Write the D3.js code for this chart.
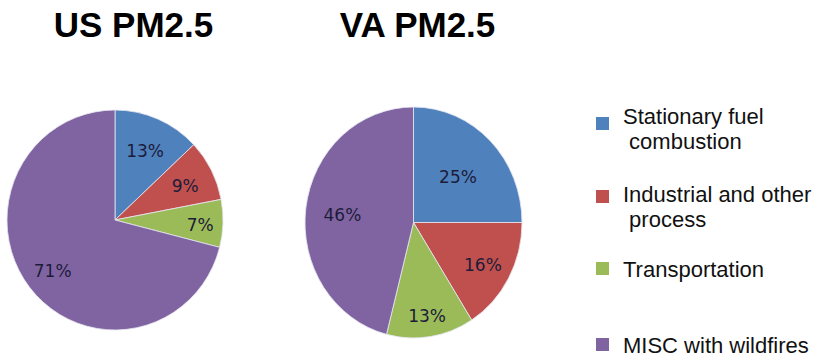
<!DOCTYPE html>
<html>
<head>
<meta charset="utf-8">
<script src="https://cdn.jsdelivr.net/npm/d3@7"></script>
<style>
  html, body { margin: 0; padding: 0; background: #fff; }
  svg { display: block; }
</style>
</head>
<body>
<svg id="chart" width="814" height="357"></svg>
<script>
// Emission source categories and their PM2.5 shares (%)
const categories = ["Stationary fuel combustion", "Industrial and other process", "Transportation", "MISC with wildfires"];
const legendLines = [["Stationary fuel", " combustion"], ["Industrial and other", " process"], ["Transportation"], ["MISC with wildfires"]];
const usValues = [13, 9, 7, 71];
const vaValues = [25, 16, 13, 46];
const titles = ["US PM2.5", "VA PM2.5"];
const colors = ["#4f81bd", "#c0504d", "#9bbb59", "#8064a2"];

const svg = d3.select("#chart");
const color = d3.scaleOrdinal().domain(categories).range(colors);
const pie = d3.pie().sort(null).value(d => d.value);

// Layout of the two pies (label radii are fractions of the pie radius)
const pies = [
  { title: titles[0], values: usValues, cx: 115, cy: 220, rx: 108, ry: 110, titleX: 133.5,
    labelR: [0.70, 0.73, 0.79, 0.73] },
  { title: titles[1], values: vaValues, cx: 413.5, cy: 222.5, rx: 108.5, ry: 115.5, titleX: 417.5,
    labelR: [0.58, 0.73, 0.80, 0.66] }
];

pies.forEach(p => {
  const data = categories.map((c, i) => ({ category: c, value: p.values[i] }));
  const arcs = pie(data);
  const R = 100;
  const arc = d3.arc().innerRadius(0).outerRadius(R);

  const g = svg.append("g")
    .attr("transform", `translate(${p.cx},${p.cy}) scale(${p.rx / R},${p.ry / R})`);

  g.selectAll("path")
    .data(arcs)
    .join("path")
    .attr("d", arc)
    .attr("fill", d => color(d.data.category))
    .attr("stroke", "#e6e6f0")
    .attr("stroke-width", 0.8 * R / p.rx);

  // percentage labels, placed in unscaled space so the text isn't stretched
  const pos = (d, i) => {
    const r = R * p.labelR[i];
    return d3.arc().innerRadius(r).outerRadius(r).centroid(d);
  };
  svg.append("g")
    .selectAll("text")
    .data(arcs)
    .join("text")
    .attr("x", (d, i) => p.cx + pos(d, i)[0] * p.rx / R)
    .attr("y", (d, i) => p.cy + pos(d, i)[1] * p.ry / R + 2)
    .attr("text-anchor", "middle")
    .attr("dominant-baseline", "central")
    .attr("font-family", "DejaVu Sans, Verdana, sans-serif")
    .attr("font-size", 17)
    .attr("fill", "#1c1c3a")
    .text(d => d.data.value + "%");

  svg.append("text")
    .attr("x", p.titleX)
    .attr("y", 37)
    .attr("text-anchor", "middle")
    .attr("font-family", "Liberation Sans, Arial, sans-serif")
    .attr("font-weight", "bold")
    .attr("font-size", 35)
    .attr("fill", "#000")
    .text(p.title);
});

// Legend
const legendBaseline = [124, 202, 277, 353];
const legendSwatchTop = [117, 190, 262, 338];
const legend = svg.append("g");
categories.forEach((c, i) => {
  legend.append("rect")
    .attr("x", 596)
    .attr("y", legendSwatchTop[i])
    .attr("width", 13)
    .attr("height", 13)
    .attr("fill", color(c));
  legend.append("text")
    .attr("y", legendBaseline[i])
    .attr("font-family", "Liberation Sans, Arial, sans-serif")
    .attr("font-size", 22)
    .attr("fill", "#111")
    .style("white-space", "pre")
    .selectAll("tspan")
    .data(legendLines[i])
    .join("tspan")
    .attr("x", 623)
    .attr("dy", (d, j) => j === 0 ? 0 : 24.5)
    .text(d => d);
});
</script>
</body>
</html>
